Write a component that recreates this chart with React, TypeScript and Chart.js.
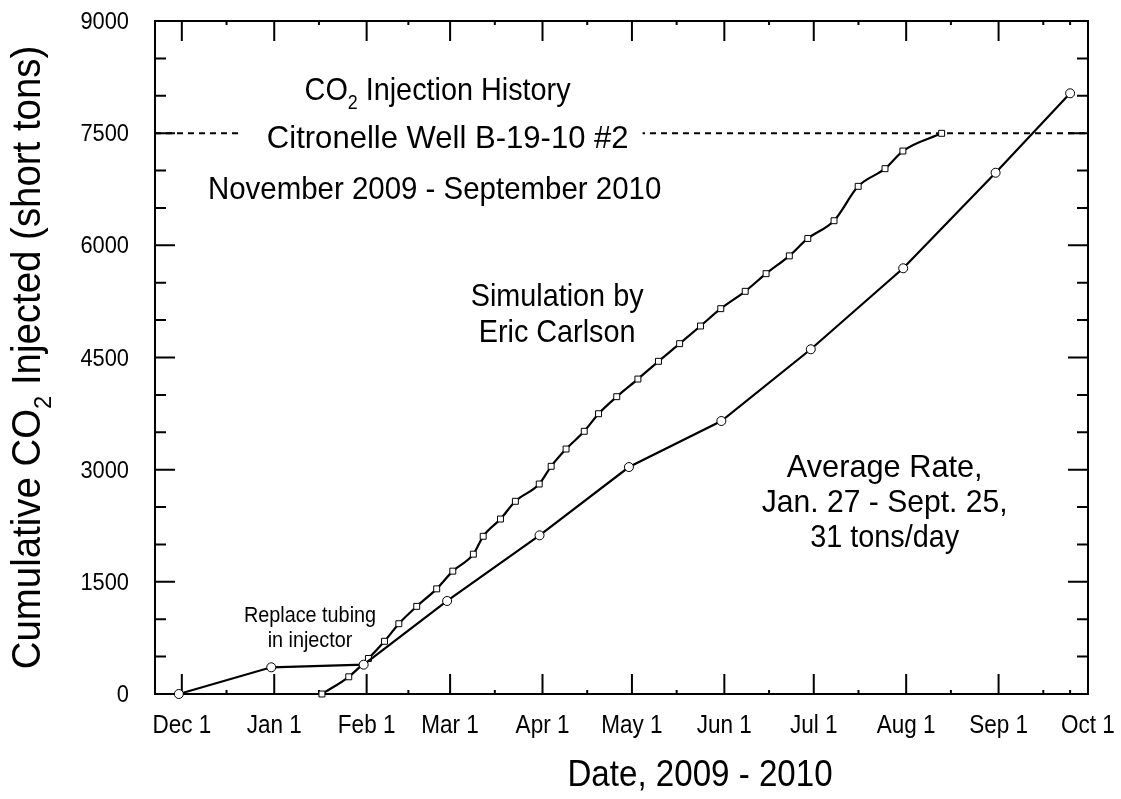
import React, { useEffect, useRef } from 'react';
import { Chart, registerables } from 'chart.js';

Chart.register(...registerables);

// x values are days since Dec 1, 2009
const monthTickDays = [0, 31, 62, 90, 121, 151, 182, 212, 243, 274, 304];
const monthTickLabels = ['Dec 1', 'Jan 1', 'Feb 1', 'Mar 1', 'Apr 1', 'May 1', 'Jun 1', 'Jul 1', 'Aug 1', 'Sep 1', 'Oct 1'];
const minorTickDays = [15, 46, 76, 105, 136, 166, 197, 227, 258, 289, 298];
const yMajorTicks = [0, 1500, 3000, 4500, 6000, 7500, 9000];
const yMinorTicks = [500, 1000, 2000, 2500, 3500, 4000, 5000, 5500, 6500, 7000, 8000, 8500];

const measuredDays = [-1, 30, 61, 89, 120, 150, 181, 211, 242, 273, 298];
const measuredTons = [0, 357, 392, 1244, 2122, 3035, 3651, 4610, 5693, 6971, 8033];

const simDays = [47, 56, 62.6, 68, 72.8, 78.8, 85.5, 90.9, 97.8, 101.1, 106.9, 111.9, 119.9, 123.9, 128.9, 135, 139.8, 145.9, 153, 159.9, 167, 174, 180.8, 189, 196, 203.8, 210, 218.8, 226.9, 235.9, 241.9, 254.9];
const simTons = [0, 230, 475, 705, 940, 1172, 1406, 1643, 1870, 2109, 2340, 2577, 2808, 3045, 3276, 3513, 3748, 3976, 4212, 4449, 4685, 4921, 5153, 5385, 5621, 5859, 6092, 6329, 6789, 7025, 7261, 7498];

const referenceLevel = 7500;

const FONT = 'Arial, "Liberation Sans", Helvetica, sans-serif';
const SX = 0.9; // horizontal condensing of the text

type Part = [string, boolean];

function drawRich(
  ctx: CanvasRenderingContext2D,
  parts: Part[],
  x: number,
  y: number,
  size: number,
  align: 'left' | 'center' | 'right',
  sx: number = SX,
) {
  const subSize = size * 0.62;
  ctx.save();
  ctx.translate(x, y);
  ctx.scale(sx, 1);
  const widths = parts.map(([t, sub]) => {
    ctx.font = `${sub ? subSize : size}px ${FONT}`;
    return ctx.measureText(t).width;
  });
  const total = widths.reduce((a, b) => a + b, 0);
  let cx = align === 'center' ? -total / 2 : align === 'right' ? -total : 0;
  ctx.textAlign = 'left';
  ctx.textBaseline = 'alphabetic';
  parts.forEach(([t, sub], i) => {
    ctx.font = `${sub ? subSize : size}px ${FONT}`;
    ctx.fillText(t, cx, sub ? size * 0.28 : 0);
    cx += widths[i];
  });
  ctx.restore();
  return total * sx;
}

const decorPlugin = {
  id: 'decor',
  beforeDatasetsDraw(chart: any) {
    const { ctx, chartArea: a, scales } = chart;
    const x = scales.x;
    const y = scales.y;
    ctx.save();
    ctx.strokeStyle = '#000';
    ctx.fillStyle = '#000';

    // dashed reference line
    const yRef = y.getPixelForValue(referenceLevel);
    ctx.lineWidth = 2;
    ctx.setLineDash([6, 5]);
    ctx.beginPath();
    ctx.moveTo(a.left, yRef);
    ctx.lineTo(a.right, yRef);
    ctx.stroke();
    ctx.setLineDash([]);

    // frame
    ctx.lineWidth = 2;
    ctx.strokeRect(a.left, a.top, a.right - a.left, a.bottom - a.top);

    // y ticks (inward, both sides)
    const tick = (px: number, len: number) => {
      ctx.beginPath();
      ctx.moveTo(a.left, px);
      ctx.lineTo(a.left + len, px);
      ctx.moveTo(a.right, px);
      ctx.lineTo(a.right - len, px);
      ctx.stroke();
    };
    yMajorTicks.forEach((v) => tick(y.getPixelForValue(v), 20));
    yMinorTicks.forEach((v) => tick(y.getPixelForValue(v), 11));

    // x ticks (inward, top and bottom)
    const xtick = (px: number, len: number) => {
      ctx.beginPath();
      ctx.moveTo(px, a.bottom);
      ctx.lineTo(px, a.bottom - len);
      ctx.moveTo(px, a.top);
      ctx.lineTo(px, a.top + len);
      ctx.stroke();
    };
    monthTickDays.forEach((v) => xtick(x.getPixelForValue(v), 20));
    minorTickDays.forEach((v) => xtick(x.getPixelForValue(v), 4));

    // tick labels
    yMajorTicks.forEach((v) => {
      drawRich(ctx, [[String(v), false]], a.left - 26, y.getPixelForValue(v) + 8, 23, 'right', 0.95);
    });
    monthTickDays.forEach((v, i) => {
      drawRich(ctx, [[monthTickLabels[i], false]], x.getPixelForValue(v), a.bottom + 39, 25, 'center', 0.9);
    });

    // annotation block (title lines)
    const size = 32;
    drawRich(ctx, [['CO', false], ['2', true], [' Injection History', false]], x.getPixelForValue(85.8), y.getPixelForValue(7943), size, 'center');
    // line 2 with white background to break dashed line
    const line2 = 'Citronelle Well B-19-10 #2';
    const sx2 = 0.97;
    ctx.save();
    ctx.font = `${size}px ${FONT}`;
    const w2 = ctx.measureText(line2).width * sx2;
    ctx.restore();
    const cx2 = x.getPixelForValue(89.2);
    ctx.fillStyle = '#fff';
    ctx.fillRect(cx2 - w2 / 2 - 26, yRef - 8, w2 + 40, 16);
    ctx.fillStyle = '#000';
    drawRich(ctx, [[line2, false]], cx2, y.getPixelForValue(7301), size, 'center', sx2);
    drawRich(ctx, [['November 2009 - September 2010', false]], x.getPixelForValue(84.8), y.getPixelForValue(6619), size, 'center', 0.92);

    // Simulation label
    const cxSim = x.getPixelForValue(125.9);
    drawRich(ctx, [['Simulation by', false]], cxSim, y.getPixelForValue(5193), size, 'center');
    drawRich(ctx, [['Eric Carlson', false]], cxSim, y.getPixelForValue(4711), size, 'center');

    // Average rate label
    const cxAvg = x.getPixelForValue(235.8);
    drawRich(ctx, [['Average Rate,', false]], cxAvg, y.getPixelForValue(2902), size, 'center', 0.96);
    drawRich(ctx, [['Jan. 27 - Sept. 25,', false]], cxAvg, y.getPixelForValue(2434), size, 'center', 0.94);
    drawRich(ctx, [['31 tons/day', false]], cxAvg, y.getPixelForValue(1966), size, 'center');

    // Replace tubing label
    const cxRep = x.getPixelForValue(43);
    drawRich(ctx, [['Replace tubing', false]], cxRep, y.getPixelForValue(963), 22, 'center');
    drawRich(ctx, [['in injector', false]], cxRep, y.getPixelForValue(628), 22, 'center');

    // axis titles
    drawRich(ctx, [['Date, 2009 - 2010', false]], 700, 786, 36, 'center', 0.92);
    ctx.save();
    ctx.translate(40, (a.top + a.bottom) / 2);
    ctx.rotate(-Math.PI / 2);
    drawRich(ctx, [['Cumulative CO', false], ['2', true], [' Injected (short tons)', false]], 0, 0, 40, 'center', 0.96);
    ctx.restore();

    ctx.restore();
  },
};

export default function App() {
  const ref = useRef<HTMLCanvasElement>(null);
  useEffect(() => {
    const canvas = ref.current;
    if (!canvas) return;
    const chart = new Chart(canvas, {
      type: 'scatter',
      data: {
        datasets: [
          {
            label: 'Measured',
            data: measuredDays.map((d, i) => ({ x: d, y: measuredTons[i] })),
            showLine: true,
            borderColor: '#000',
            borderWidth: 2.2,
            pointStyle: 'circle',
            pointRadius: 4.5,
            pointBackgroundColor: '#fff',
            pointBorderColor: '#000',
            pointBorderWidth: 1,
            clip: false as any,
          },
          {
            label: 'Simulation',
            data: simDays.map((d, i) => ({ x: d, y: simTons[i] })),
            showLine: true,
            borderColor: '#000',
            borderWidth: 2.2,
            pointStyle: 'rect',
            pointRadius: 4.2,
            pointBackgroundColor: '#fff',
            pointBorderColor: '#000',
            pointBorderWidth: 1,
            cubicInterpolationMode: 'monotone',
            clip: false as any,
          },
        ],
      },
      options: {
        animation: false,
        responsive: true,
        maintainAspectRatio: false,
        layout: { padding: { left: 0, top: 21, right: 33, bottom: 0 } },
        plugins: { legend: { display: false }, tooltip: { enabled: false } },
        scales: {
          x: {
            type: 'linear',
            min: -9,
            max: 304,
            grid: { display: false },
            border: { display: false },
            ticks: { display: false },
            afterFit: (s: any) => {
              s.height = 105;
            },
          },
          y: {
            type: 'linear',
            min: 0,
            max: 9000,
            grid: { display: false },
            border: { display: false },
            ticks: { display: false },
            afterFit: (s: any) => {
              s.width = 155;
            },
          },
        },
      },
      plugins: [decorPlugin],
    });
    return () => chart.destroy();
  }, []);
  return (
    <div style={{ position: 'fixed', left: 0, top: 0, width: 1121, height: 799, background: '#fff' }}>
      <canvas ref={ref} />
    </div>
  );
}
